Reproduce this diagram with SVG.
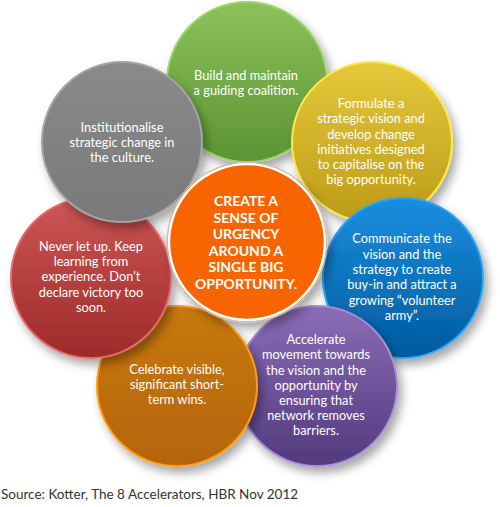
<svg xmlns="http://www.w3.org/2000/svg" width="500" height="507" viewBox="0 0 500 507">
<defs>
<filter id="sh" x="-30%" y="-30%" width="170%" height="170%">
<feDropShadow dx="4" dy="6" stdDeviation="5" flood-color="#000" flood-opacity="0.35"/>
</filter>
<linearGradient id="gGreen" x1="0" y1="0" x2="0" y2="1"><stop offset="0" stop-color="#8cc15a"/><stop offset="1" stop-color="#5c9434"/></linearGradient>
<linearGradient id="gYellow" x1="0" y1="0" x2="0" y2="1"><stop offset="0" stop-color="#e5c83a"/><stop offset="1" stop-color="#bd9b18"/></linearGradient>
<linearGradient id="gBlue" x1="0" y1="0" x2="0" y2="1"><stop offset="0" stop-color="#1a8fdf"/><stop offset="1" stop-color="#005a9e"/></linearGradient>
<linearGradient id="gPurple" x1="0" y1="0" x2="0" y2="1"><stop offset="0" stop-color="#8a6db6"/><stop offset="1" stop-color="#533a7e"/></linearGradient>
<linearGradient id="gOrange" x1="0" y1="0" x2="0" y2="1"><stop offset="0" stop-color="#c8790f"/><stop offset="1" stop-color="#b56407"/></linearGradient>
<linearGradient id="gRed" x1="0" y1="0" x2="0" y2="1"><stop offset="0" stop-color="#cd5656"/><stop offset="1" stop-color="#9e2a2a"/></linearGradient>
<linearGradient id="gGray" x1="0" y1="0" x2="0" y2="1"><stop offset="0" stop-color="#8a8a8a"/><stop offset="1" stop-color="#797979"/></linearGradient>
<style>
.c{filter:url(#sh);stroke-width:2;}
.t{font-family:Lato,"Liberation Sans",sans-serif;font-size:12.8px;fill:#fff;text-anchor:middle;}
.b{font-family:Lato,"Liberation Sans",sans-serif;font-size:14px;font-weight:bold;fill:#fff;text-anchor:middle;}
.src{font-family:Lato,"Liberation Sans",sans-serif;font-size:13.5px;fill:#333;}
</style>
</defs>
<rect width="500" height="507" fill="#fff"/>
<g id="n-coalition">
<circle class="c" cx="247" cy="82" r="80" fill="url(#gGreen)" stroke="#9ed66a"/>
<text class="t" x="246" y="80">Build and maintain</text>
<text class="t" x="246" y="95">a guiding coalition.</text>
</g>
<g id="n-vision">
<circle class="c" cx="372" cy="142" r="80" fill="url(#gYellow)" stroke="#fbe94a"/>
<text class="t" x="371" y="108">Formulate a</text>
<text class="t" x="371" y="123">strategic vision and</text>
<text class="t" x="371" y="138.5">develop change</text>
<text class="t" x="371" y="154">initiatives designed</text>
<text class="t" x="371" y="169">to capitalise on the</text>
<text class="t" x="371" y="184">big opportunity.</text>
</g>
<g id="n-communicate">
<circle class="c" cx="403" cy="278" r="80" fill="url(#gBlue)" stroke="#2aa6f5"/>
<text class="t" x="402" y="243">Communicate the</text>
<text class="t" x="402" y="258.5">vision and the</text>
<text class="t" x="402" y="274">strategy to create</text>
<text class="t" x="402" y="289">buy-in and attract a</text>
<text class="t" x="402" y="304.5">growing “volunteer</text>
<text class="t" x="402" y="320">army”.</text>
</g>
<g id="n-accelerate">
<circle class="c" cx="317" cy="386" r="80" fill="url(#gPurple)" stroke="#a88cd4"/>
<text class="t" x="316" y="344">Accelerate</text>
<text class="t" x="316" y="359">movement towards</text>
<text class="t" x="316" y="374.5">the vision and the</text>
<text class="t" x="316" y="389.5">opportunity by</text>
<text class="t" x="316" y="404.5">ensuring that</text>
<text class="t" x="316" y="419.5">network removes</text>
<text class="t" x="316" y="435">barriers.</text>
</g>
<g id="n-celebrate">
<circle class="c" cx="177" cy="386" r="80" fill="url(#gOrange)" stroke="#ff9c12"/>
<text class="t" x="177" y="374">Celebrate visible,</text>
<text class="t" x="177" y="389">significant short-</text>
<text class="t" x="177" y="404">term wins.</text>
</g>
<g id="n-neverletup">
<circle class="c" cx="91" cy="278" r="80" fill="url(#gRed)" stroke="#e46a6a"/>
<text class="t" x="91" y="251">Never let up. Keep</text>
<text class="t" x="91" y="266">learning from</text>
<text class="t" x="91" y="281">experience. Don’t</text>
<text class="t" x="91" y="296.5">declare victory too</text>
<text class="t" x="91" y="312">soon.</text>
</g>
<g id="n-institutionalise">
<circle class="c" cx="122" cy="142" r="80" fill="url(#gGray)" stroke="#a4a4a4"/>
<text class="t" x="122" y="132">Institutionalise</text>
<text class="t" x="122" y="147">strategic change in</text>
<text class="t" x="122" y="162">the culture.</text>
</g>
<g id="n-urgency">
<circle cx="247" cy="242" r="80" fill="#f86500" stroke="#c8c8c8" stroke-width="1" filter="url(#sh)"/>
<circle cx="247" cy="242" r="78" fill="#f86500" stroke="#fff" stroke-width="2.5"/>
<text class="b" x="246" y="206">CREATE A</text>
<text class="b" x="246" y="222.5">SENSE OF</text>
<text class="b" x="246" y="239">URGENCY</text>
<text class="b" x="246" y="255.5">AROUND A</text>
<text class="b" x="246" y="272">SINGLE BIG</text>
<text class="b" x="246" y="289">OPPORTUNITY.</text>
</g>
<text class="src" x="1" y="499">Source: Kotter, The 8 Accelerators, HBR Nov 2012</text>
</svg>
